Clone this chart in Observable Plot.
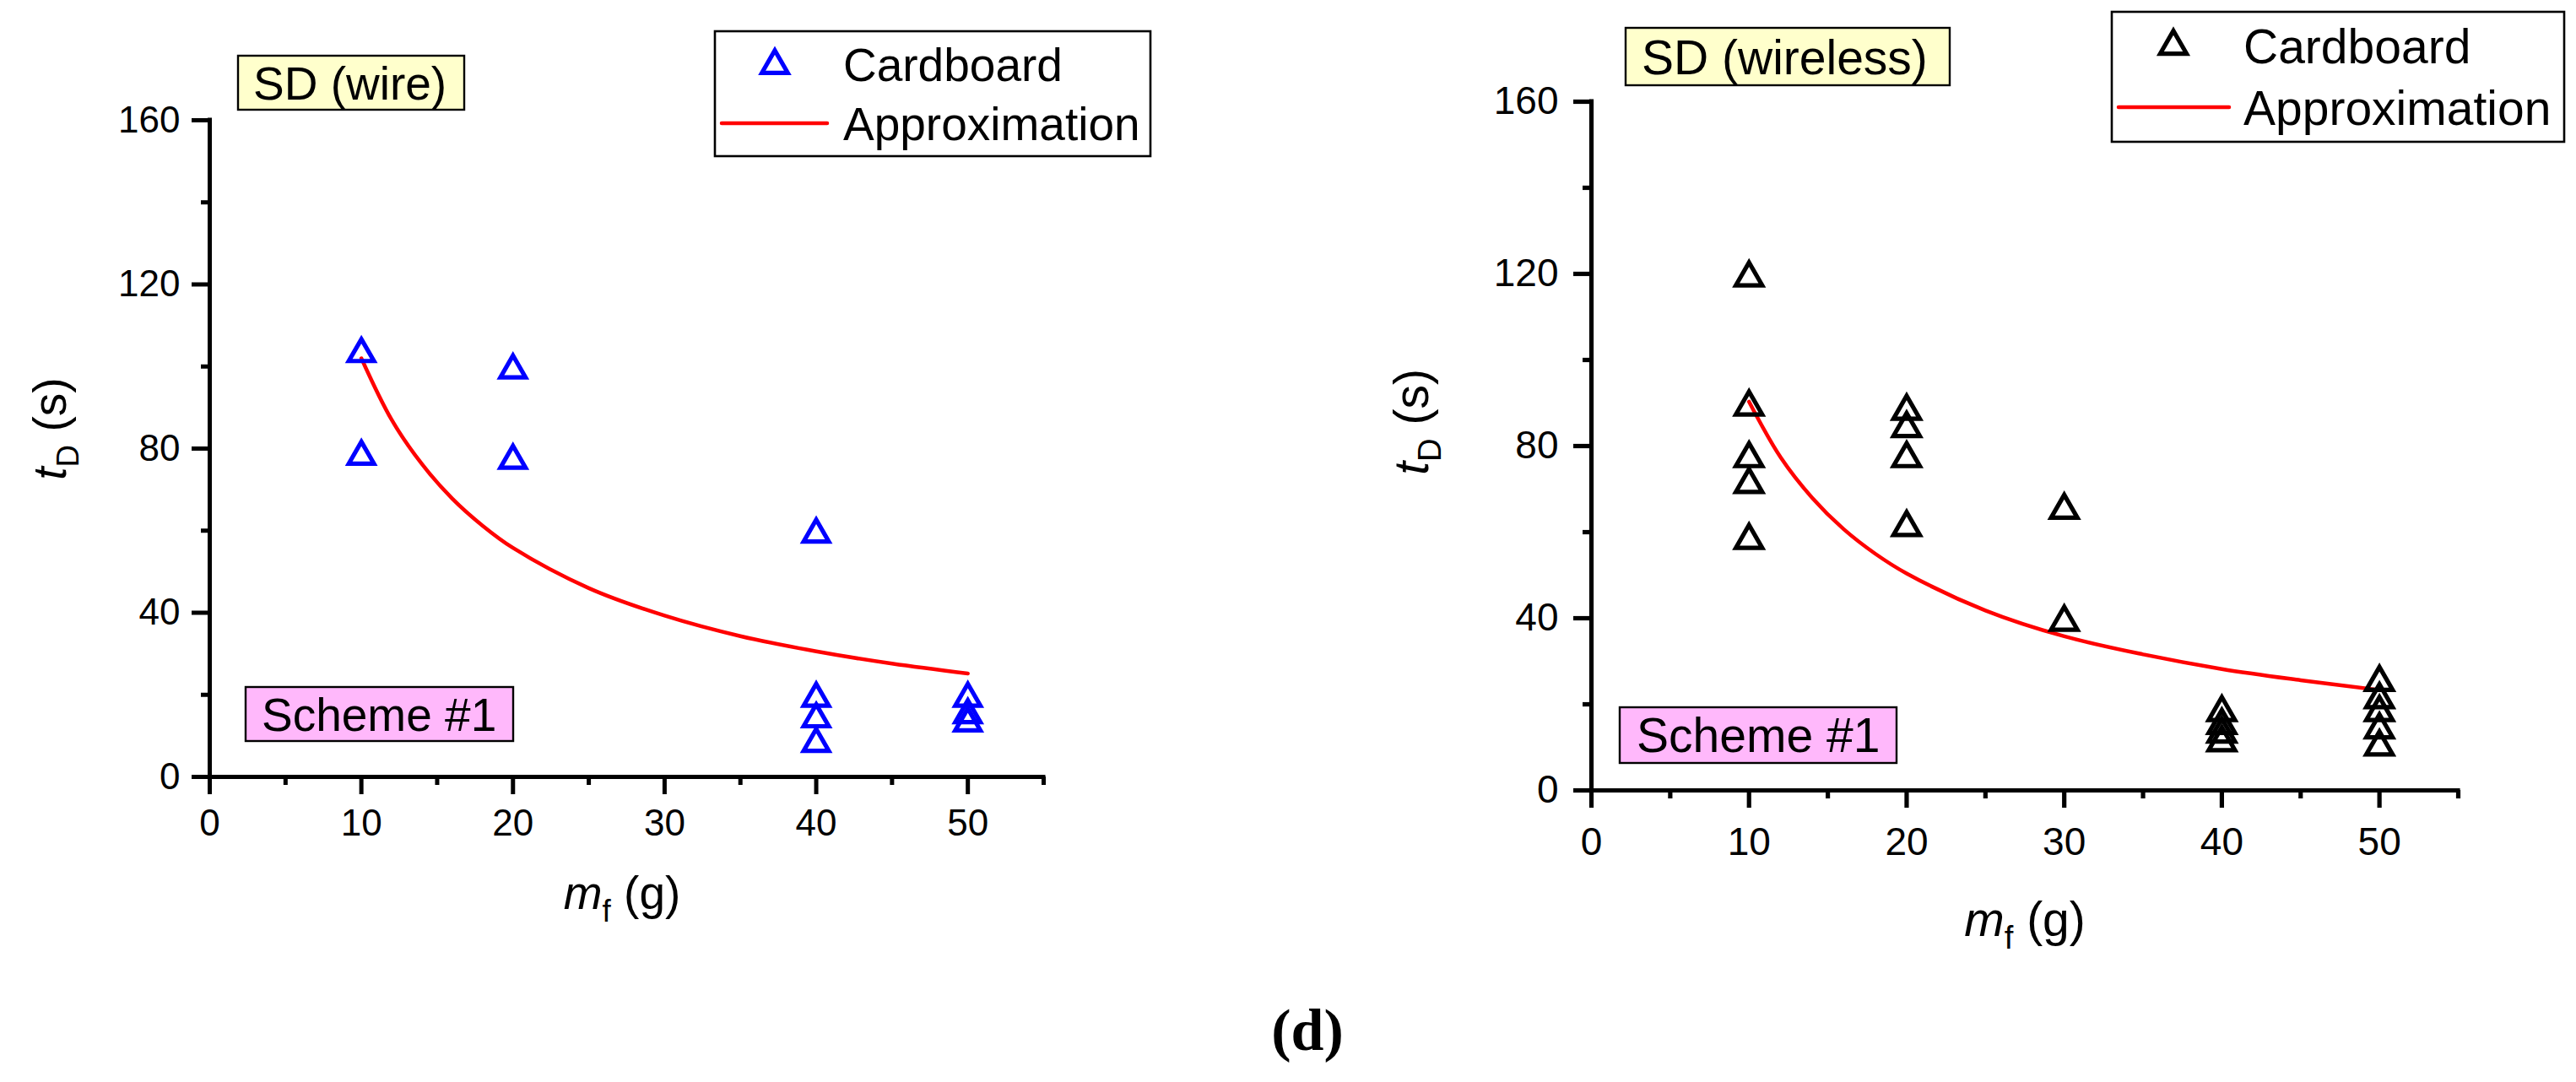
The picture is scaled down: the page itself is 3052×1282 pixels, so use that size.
<!DOCTYPE html>
<html>
<head>
<meta charset="utf-8">
<script src="https://cdn.jsdelivr.net/npm/d3@7"></script>
<script src="https://cdn.jsdelivr.net/npm/@observablehq/plot@0.6"></script>
<style>
  html, body { margin: 0; padding: 0; background: #fff; }
  #root { position: relative; width: 3052px; height: 1282px; overflow: hidden; background: #fff; }
  #root svg { position: absolute; }
</style>
</head>
<body>
<div id="root"></div>
<script>
// ---------- data ----------
// Left panel: SD (wire), Cardboard
const wireMass = [10, 10, 20, 20, 40, 40, 40, 40, 50, 50, 50];
const wireTime = [104, 79, 100, 78, 60, 20, 15, 9, 20, 16, 14];
// Left panel approximation curve
const wireFitMass = [10, 12, 14, 16, 18, 20, 25, 30, 35, 40, 45, 50];
const wireFitTime = [102, 87, 76.2, 67.8, 61.2, 55.8, 46, 39.3, 34.3, 30.6, 27.6, 25.2];

// Right panel: SD (wireless), Cardboard
const wirelessMass = [10, 10, 10, 10, 10, 20, 20, 20, 20, 30, 30, 40, 40, 40, 40, 50, 50, 50, 50, 50];
const wirelessTime = [120, 90, 78, 72, 59, 89, 85, 78, 62, 66, 40, 19, 16, 14, 12, 26, 22, 19, 15, 11];
// Right panel approximation curve
const wirelessFitMass = [10, 12, 14, 16, 18, 20, 25, 30, 35, 40, 45, 50];
const wirelessFitTime = [90.3, 77.4, 68, 60.7, 55, 50.4, 41.8, 35.8, 31.6, 28.2, 25.6, 23.3];

// Axes
const xMajorTicks = [0, 10, 20, 30, 40, 50];
const xMinorTicks = [5, 15, 25, 35, 45, 55];
const yMajorTicks = [0, 40, 80, 120, 160];
const yMinorTicks = [20, 60, 100, 140];

const seriesName = "Cardboard";
const fitName = "Approximation";
const panelTags = ["SD (wire)", "SD (wireless)"];
const schemeTag = "Scheme #1";
const caption = "(d)";

// ---------- helpers ----------
const pts = (xs, ys) => xs.map((x, i) => ({x, y: ys[i]}));

const triangle = {
  draw(ctx, size) {
    const w = Math.sqrt(size) * 1.6;
    const h = w * 0.87;
    ctx.moveTo(0, -h / 2);
    ctx.lineTo(w / 2, h / 2);
    ctx.lineTo(-w / 2, h / 2);
    ctx.closePath();
  }
};

function panel(o) {
  const sw = o.axisWidth;
  const svg = Plot.plot({
    width: o.width, height: o.height,
    marginLeft: o.ml, marginRight: o.mr, marginTop: o.mt, marginBottom: o.mb,
    x: {domain: [0, 55]},
    y: {domain: [0, 160]},
    style: {fontFamily: "'Liberation Sans', Arial, sans-serif", fontSize: o.fs + "px", color: "black", background: "transparent", overflow: "visible"},
    marks: [
      Plot.axisX({ticks: xMinorTicks, tickSize: 10, tickFormat: () => "", label: null, strokeWidth: sw}),
      Plot.axisX({ticks: xMajorTicks, tickSize: 21, tickPadding: o.xpad, label: null, strokeWidth: sw, fontSize: o.fs, tickFormat: d => String(d)}),
      Plot.axisY({ticks: yMinorTicks, tickSize: 10, tickFormat: () => "", label: null, strokeWidth: sw}),
      Plot.axisY({ticks: yMajorTicks, tickSize: 21, tickPadding: o.ypad, label: null, strokeWidth: sw, fontSize: o.fs, tickFormat: d => String(d)}),
      Plot.ruleY([0], {stroke: "black", strokeWidth: sw, strokeLinecap: "square"}),
      Plot.ruleX([0], {stroke: "black", strokeWidth: sw, strokeLinecap: "square"}),
      Plot.line(pts(o.fitX, o.fitY), {x: "x", y: "y", stroke: "#ff0000", strokeWidth: 4.5, curve: "catmull-rom"}),
      Plot.dot(pts(o.dataX, o.dataY), {x: "x", y: "y", symbol: triangle, r: o.r, stroke: o.color, strokeWidth: 5.2, fill: "none"})
    ]
  });
  svg.style.left = o.left + "px";
  svg.style.top = o.top + "px";
  return svg;
}

const root = document.getElementById("root");

root.appendChild(panel({
  left: 0, top: 0, width: 1300, height: 1100, ml: 248, mr: 64, mt: 142, mb: 180,
  fs: 44, xpad: 17, ypad: 14, axisWidth: 5, r: 10.5, color: "#0000ff",
  dataX: wireMass, dataY: wireTime, fitX: wireFitMass, fitY: wireFitTime
}));

root.appendChild(panel({
  left: 1600, top: 0, width: 1400, height: 1200, ml: 285, mr: 88, mt: 120, mb: 264,
  fs: 46, xpad: 23, ypad: 18, axisWidth: 5.2, r: 11, color: "#000000",
  dataX: wirelessMass, dataY: wirelessTime, fitX: wirelessFitMass, fitY: wirelessFitTime
}));

// ---------- overlay: annotation boxes, legends, axis titles, caption ----------
const ov = d3.select(root).append("svg")
  .attr("width", 3052).attr("height", 1282)
  .style("left", "0px").style("top", "0px")
  .attr("font-family", "'Liberation Sans', Arial, sans-serif");

function tagBox(x, y, w, h, fill, text, tx, ty, fs) {
  ov.append("rect").attr("x", x).attr("y", y).attr("width", w).attr("height", h)
    .attr("fill", fill).attr("stroke", "black").attr("stroke-width", 2.4);
  ov.append("text").attr("x", tx).attr("y", ty).attr("font-size", fs).attr("fill", "black").text(text);
}

function legend(o) {
  ov.append("rect").attr("x", o.x).attr("y", o.y).attr("width", o.w).attr("height", o.h)
    .attr("fill", "white").attr("stroke", "black").attr("stroke-width", 2.6);
  const size = Math.PI * o.r * o.r;
  const p = d3.path();
  triangle.draw(p, size);
  ov.append("path").attr("d", p.toString()).attr("transform", `translate(${o.tcx},${o.tcy})`)
    .attr("fill", "none").attr("stroke", o.color).attr("stroke-width", 5.2);
  ov.append("line").attr("x1", o.lx1).attr("x2", o.lx2).attr("y1", o.ly).attr("y2", o.ly)
    .attr("stroke", "#ff0000").attr("stroke-width", 4.5).attr("stroke-linecap", "round");
  ov.append("text").attr("x", o.tx).attr("y", o.b1).attr("font-size", o.fs).text(seriesName);
  ov.append("text").attr("x", o.tx).attr("y", o.b2).attr("font-size", o.fs).text(fitName);
}

function xTitle(cx, base, fs) {
  const t = ov.append("text").attr("x", cx).attr("y", base).attr("font-size", fs).attr("text-anchor", "middle");
  t.append("tspan").attr("font-style", "italic").text("m");
  t.append("tspan").attr("font-size", fs * 0.67).attr("dy", fs * 0.27).text("f");
  t.append("tspan").attr("dy", -fs * 0.27).text(" (g)");
}

function yTitle(bx, cy, fs) {
  const t = ov.append("text").attr("transform", `translate(${bx},${cy}) rotate(-90)`)
    .attr("font-size", fs).attr("text-anchor", "middle");
  t.append("tspan").attr("font-style", "italic").text("t");
  t.append("tspan").attr("font-size", fs * 0.67).attr("dy", fs * 0.27).text("D");
  t.append("tspan").attr("dy", -fs * 0.27).text(" (s)");
}

// left panel decorations
tagBox(282, 66, 268, 64, "#ffffcc", panelTags[0], 300, 118, 55);
tagBox(291, 814, 317, 64, "#ffb8fb", schemeTag, 310, 866, 55);
legend({x: 847, y: 37, w: 516, h: 148, r: 10.8, color: "#0000ff", tcx: 918, tcy: 73,
        lx1: 855, lx2: 980, ly: 146, tx: 999, b1: 96, b2: 166, fs: 55});
xTitle(737, 1077, 55);
yTitle(78, 508, 55);

// right panel decorations
tagBox(1926, 33, 384, 68, "#ffffcc", panelTags[1], 1945, 88, 57);
tagBox(1919, 838, 328, 66, "#ffb8fb", schemeTag, 1939, 891, 57);
legend({x: 2502, y: 14, w: 536, h: 154, r: 11, color: "#000000", tcx: 2575, tcy: 50,
        lx1: 2510, lx2: 2641, ly: 127, tx: 2658, b1: 75, b2: 148, fs: 57});
xTitle(2399, 1109, 57);
yTitle(1692, 500, 57);

// caption
ov.append("text").attr("x", 1549).attr("y", 1244).attr("text-anchor", "middle")
  .attr("font-family", "'Liberation Serif', 'Times New Roman', serif").attr("font-weight", "bold")
  .attr("font-size", 70).text(caption);
</script>
</body>
</html>
